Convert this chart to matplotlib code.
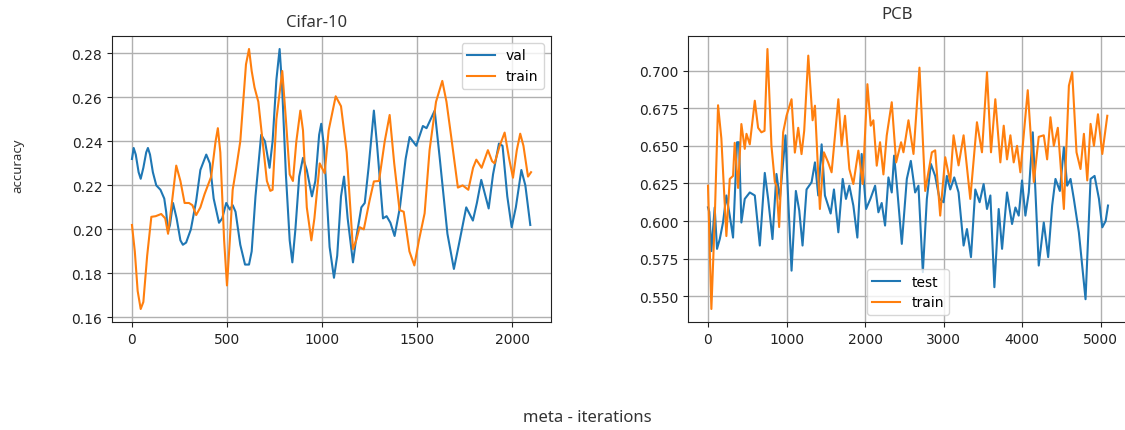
import matplotlib
matplotlib.use("Agg")
import matplotlib.pyplot as plt

# ---------------- Cifar-10 data ----------------
cifar_val_x = [0, 9, 20, 35, 46, 60, 75, 84, 95, 110, 128, 150, 170, 180, 190, 200, 216, 235, 255, 268,
               285, 310, 338, 360, 391, 410, 430, 458, 475, 496, 515, 530, 545, 570, 595, 616, 630, 650,
               680, 700, 724, 740, 760, 777, 790, 810, 830, 844, 860, 880, 900, 920, 947, 965, 985, 996,
               1010, 1040, 1063, 1080, 1100, 1116, 1135, 1163, 1180, 1207, 1225, 1245, 1273, 1290, 1321,
               1340, 1360, 1382, 1410, 1440, 1461, 1496, 1531, 1550, 1593, 1620, 1660, 1694, 1720, 1759,
               1794, 1815, 1838, 1877, 1900, 1931, 1950, 1975, 1998, 2020, 2049, 2070, 2096]
cifar_val_y = [0.232, 0.237, 0.234, 0.226, 0.223, 0.228, 0.235, 0.237, 0.234, 0.226, 0.220, 0.218, 0.214,
               0.208, 0.199, 0.202, 0.212, 0.205, 0.195, 0.193, 0.194, 0.200, 0.213, 0.227, 0.234, 0.230,
               0.214, 0.203, 0.205, 0.212, 0.209, 0.211, 0.208, 0.193, 0.184, 0.184, 0.190, 0.215, 0.243,
               0.240, 0.228, 0.240, 0.268, 0.282, 0.265, 0.225, 0.195, 0.185, 0.200, 0.224, 0.2325, 0.227,
               0.215, 0.222, 0.243, 0.248, 0.238, 0.192, 0.178, 0.188, 0.215, 0.224, 0.205, 0.185, 0.196,
               0.210, 0.212, 0.228, 0.254, 0.238, 0.205, 0.206, 0.203, 0.197, 0.210, 0.232, 0.242, 0.238,
               0.247, 0.246, 0.254, 0.232, 0.198, 0.182, 0.193, 0.210, 0.204, 0.212, 0.2225, 0.2095, 0.225,
               0.239, 0.238, 0.215, 0.201, 0.210, 0.227, 0.220, 0.202]

cifar_train_x = [0, 15, 30, 46, 60, 80, 102, 125, 154, 175, 190, 210, 233, 255, 277, 300, 318, 338, 360,
                 382, 417, 440, 452, 465, 485, 500, 515, 530, 549, 570, 600, 616, 630, 645, 665, 690, 710,
                 728, 740, 760, 791, 810, 830, 847, 865, 886, 900, 920, 944, 960, 988, 1014, 1035, 1072,
                 1100, 1130, 1163, 1180, 1198, 1220, 1250, 1273, 1300, 1330, 1356, 1380, 1408, 1430, 1460,
                 1486, 1510, 1540, 1566, 1600, 1633, 1655, 1680, 1715, 1740, 1770, 1795, 1812, 1840, 1873,
                 1895, 1908, 1935, 1961, 1985, 2005, 2025, 2043, 2060, 2084, 2100]
cifar_train_y = [0.202, 0.190, 0.172, 0.1638, 0.167, 0.188, 0.2057, 0.206, 0.207, 0.205, 0.198, 0.212,
                 0.229, 0.222, 0.212, 0.212, 0.211, 0.2065, 0.210, 0.216, 0.224, 0.240, 0.246, 0.235, 0.195,
                 0.1745, 0.195, 0.218, 0.228, 0.240, 0.275, 0.282, 0.272, 0.2645, 0.258, 0.238, 0.222,
                 0.2175, 0.218, 0.250, 0.272, 0.250, 0.225, 0.222, 0.240, 0.254, 0.245, 0.210, 0.195, 0.205,
                 0.230, 0.2255, 0.245, 0.2605, 0.256, 0.235, 0.191, 0.195, 0.201, 0.200, 0.213, 0.2218,
                 0.222, 0.240, 0.252, 0.230, 0.2088, 0.208, 0.190, 0.1836, 0.195, 0.2073, 0.236, 0.258,
                 0.2675, 0.258, 0.242, 0.219, 0.220, 0.218, 0.228, 0.2317, 0.228, 0.236, 0.231, 0.230,
                 0.238, 0.244, 0.232, 0.2235, 0.236, 0.2435, 0.238, 0.224, 0.226]

# ---------------- PCB data ----------------
pcb_train_x = [0, 43, 85, 128, 170, 234, 277, 319, 340, 383, 425, 468, 490, 532, 596, 638, 680, 720, 757,
               808, 851, 872, 906, 957, 1000, 1064, 1106, 1149, 1191, 1225, 1277, 1332, 1362, 1425, 1476,
               1530, 1574, 1660, 1702, 1745, 1800, 1851, 1915, 1970, 2030, 2072, 2106, 2149, 2191, 2234,
               2276, 2340, 2396, 2459, 2489, 2553, 2617, 2693, 2766, 2851, 2893, 2957, 3021, 3085, 3127,
               3191, 3255, 3340, 3425, 3489, 3553, 3604, 3659, 3723, 3766, 3808, 3851, 3893, 3936, 3978,
               4072, 4149, 4212, 4276, 4319, 4361, 4404, 4455, 4532, 4596, 4638, 4693, 4744, 4787, 4830,
               4872, 4915, 4966, 5021, 5085]
pcb_train_y = [0.6235, 0.5415, 0.600, 0.677, 0.655, 0.590, 0.628, 0.630, 0.652, 0.622, 0.6645, 0.648,
               0.658, 0.651, 0.680, 0.662, 0.659, 0.660, 0.7144, 0.650, 0.626, 0.6235, 0.596, 0.659, 0.670,
               0.681, 0.6455, 0.662, 0.6445, 0.660, 0.710, 0.667, 0.6767, 0.608, 0.6457, 0.639, 0.6324,
               0.681, 0.650, 0.670, 0.6346, 0.6246, 0.6468, 0.6246, 0.691, 0.6634, 0.667, 0.6368, 0.6524,
               0.631, 0.6568, 0.679, 0.639, 0.6524, 0.6457, 0.667, 0.6446, 0.702, 0.620, 0.6457, 0.647,
               0.6036, 0.6424, 0.626, 0.657, 0.637, 0.657, 0.6147, 0.6657, 0.6457, 0.699, 0.6457, 0.681,
               0.639, 0.6634, 0.641, 0.657, 0.639, 0.650, 0.6324, 0.687, 0.626, 0.656, 0.657, 0.641, 0.669,
               0.650, 0.662, 0.608, 0.690, 0.699, 0.6457, 0.6346, 0.658, 0.627, 0.6646, 0.650, 0.671,
               0.6446, 0.670]

pcb_test_x = [0, 17, 43, 85, 115, 150, 191, 234, 277, 319, 370, 395, 425, 468, 532, 596, 660, 723, 766,
              821, 872, 915, 987, 1021, 1064, 1119, 1162, 1204, 1255, 1319, 1362, 1404, 1447, 1489, 1562,
              1604, 1660, 1715, 1757, 1800, 1851, 1902, 1957, 2013, 2070, 2128, 2170, 2212, 2255, 2298,
              2340, 2370, 2410, 2468, 2532, 2583, 2638, 2680, 2736, 2787, 2838, 2893, 2949, 3000, 3042,
              3085, 3136, 3191, 3255, 3298, 3349, 3404, 3459, 3510, 3553, 3596, 3647, 3702, 3745, 3808,
              3872, 3915, 3957, 3999, 4042, 4085, 4136, 4212, 4276, 4332, 4383, 4425, 4481, 4532, 4574,
              4617, 4659, 4723, 4808, 4872, 4923, 4979, 5021, 5064, 5094]
pcb_test_y = [0.6091, 0.606, 0.580, 0.609, 0.5815, 0.588, 0.599, 0.617, 0.6036, 0.589, 0.6524, 0.6524,
              0.599, 0.6147, 0.619, 0.617, 0.5837, 0.632, 0.6147, 0.588, 0.6313, 0.6147, 0.657, 0.6147,
              0.567, 0.620, 0.607, 0.5837, 0.621, 0.6258, 0.639, 0.617, 0.651, 0.617, 0.605, 0.621,
              0.5925, 0.628, 0.6147, 0.6235, 0.6103, 0.589, 0.6446, 0.608, 0.615, 0.6235, 0.6058, 0.612,
              0.597, 0.629, 0.619, 0.6435, 0.621, 0.5848, 0.628, 0.640, 0.619, 0.6235, 0.566, 0.6147,
              0.638, 0.630, 0.6147, 0.6125, 0.630, 0.621, 0.629, 0.619, 0.5837, 0.5947, 0.576, 0.621,
              0.6125, 0.6246, 0.608, 0.617, 0.556, 0.608, 0.5815, 0.619, 0.598, 0.609, 0.6036, 0.627,
              0.6036, 0.619, 0.659, 0.5704, 0.599, 0.576, 0.6103, 0.628, 0.620, 0.649, 0.6235, 0.628,
              0.6147, 0.5925, 0.548, 0.628, 0.630, 0.6147, 0.5958, 0.600, 0.6103]

cifar_xticks = [0, 500, 1000, 1500, 2000]
cifar_yticks = [0.16, 0.18, 0.20, 0.22, 0.24, 0.26, 0.28]
pcb_xticks = [0, 1000, 2000, 3000, 4000, 5000]
pcb_yticks = [0.550, 0.575, 0.600, 0.625, 0.650, 0.675, 0.700]

BLUE = "#1f77b4"
ORANGE = "#ff7f0e"
TXT = "#333333"
LABEL_FONT = ["Noto Sans", "DejaVu Sans"]

fig = plt.figure(figsize=(11.25, 4.31), dpi=100)
fig.patch.set_facecolor("white")

ax1 = fig.add_axes([112 / 1125, 1 - 323 / 431, 439 / 1125, 286 / 431])
ax2 = fig.add_axes([688 / 1125, 1 - 323 / 431, 440 / 1125, 286 / 431])

ax1.plot(cifar_val_x, cifar_val_y, color=BLUE, lw=1.5, label="val")
ax1.plot(cifar_train_x, cifar_train_y, color=ORANGE, lw=1.5, label="train")
ax1.set_xticks(cifar_xticks)
ax1.set_yticks(cifar_yticks)
ax1.set_yticklabels([f"{v:.2f}" for v in cifar_yticks])
ax1.grid(True, color="#b0b0b0", lw=1.0)
ax1.legend(loc="upper right")
ax1.set_title("Cifar-10", family=LABEL_FONT, fontsize=12, color=TXT, x=0.467, pad=7)

ax2.plot(pcb_test_x, pcb_test_y, color=BLUE, lw=1.5, label="test")
ax2.plot(pcb_train_x, pcb_train_y, color=ORANGE, lw=1.5, label="train")
ax2.set_xticks(pcb_xticks)
ax2.set_yticks(pcb_yticks)
ax2.set_yticklabels([f"{v:.3f}" for v in pcb_yticks])
ax2.grid(True, color="#b0b0b0", lw=1.0)
ax2.legend(loc="lower center")
ax2.set_title("PCB", family=LABEL_FONT, fontsize=12, color=TXT, x=0.475, pad=13)

for ax in (ax1, ax2):
    ax.tick_params(labelsize=10, colors="#222222")
    for s in ax.spines.values():
        s.set_color("#222222")

fig.text(0.016, 0.615, "accuracy", rotation=90, ha="center", va="center",
         family=LABEL_FONT, fontsize=9.5, color=TXT)
fig.text(0.522, 0.03, "meta - iterations", ha="center", va="center",
         family=LABEL_FONT, fontsize=12, color=TXT)

fig.savefig("out.png", dpi=100)
